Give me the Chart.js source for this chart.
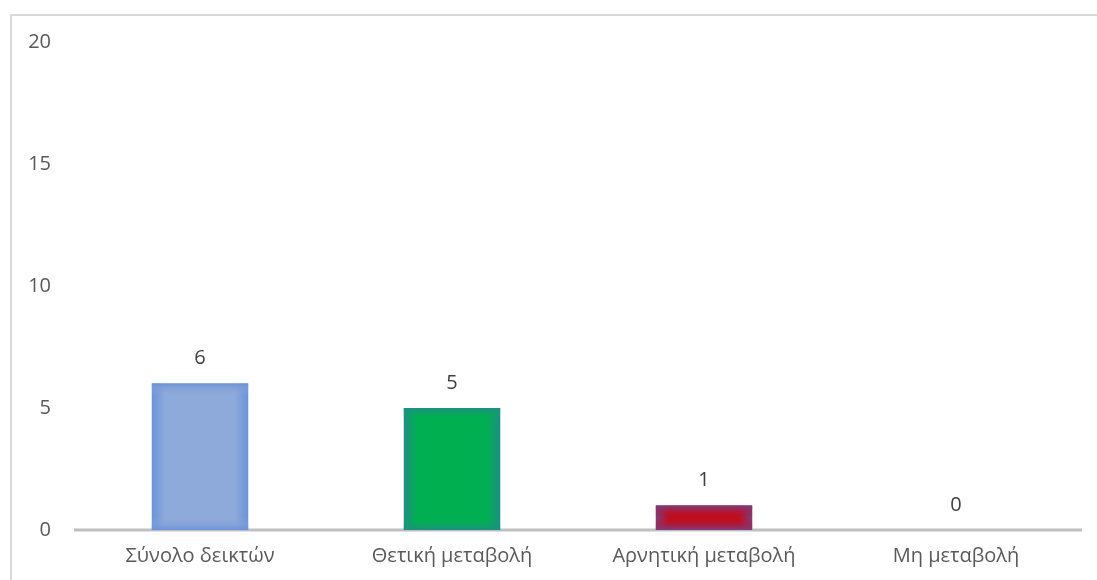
<!DOCTYPE html>
<html>
<head>
<meta charset="utf-8">
<script src="https://cdn.jsdelivr.net/npm/chart.js@4/dist/chart.umd.min.js"></script>
<style>
    html, body { margin: 0; padding: 0; background: #fff; }
    #wrap { position: absolute; left: 0; top: 0; width: 1097px; height: 580px; }
    #frame { position: absolute; left: 10px; top: 14px; width: 1100px; height: 600px; border: 2px solid #d9d9d9; box-sizing: border-box; }
</style>
</head>
<body>
<div id="frame"></div>
<div id="wrap"><canvas id="myChart"></canvas></div>
<script>
var categories = ["Σύνολο δεικτών", "Θετική μεταβολή", "Αρνητική μεταβολή", "Μη μεταβολή"];
var values = [6, 5, 1, 0];
var yTicks = [0, 5, 10, 15, 20];

// χρώματα: κέντρο / άκρη
var centerColors = ["#8eaadb", "#00b050", "#c00d1e", "#a5a5a5"];
var edgeColors = ["#6d92d6", "#1f8d86", "#7a3e80", "#a5a5a5"];

var data = {
    labels: categories,
    datasets: [{
        data: values,
        backgroundColor: edgeColors,
        borderWidth: 0,
        barPercentage: 0.382,
        categoryPercentage: 1
    }]
};

// σκίαση των μπαρών και τιμές πάνω από κάθε μπάρα
var barPlugin = {
    id: "barPlugin",
    afterDatasetsDraw: function(chart) {
        var ctx = chart.ctx;
        var meta = chart.getDatasetMeta(0);
        meta.data.forEach(function(bar, i) {
            var p = bar.getProps(["x", "y", "base", "width"], true);
            var left = p.x - p.width / 2;
            var h = p.base - p.y;
            if (h > 0) {
                var g = ctx.createLinearGradient(left, 0, left + p.width, 0);
                g.addColorStop(0, edgeColors[i]);
                g.addColorStop(0.14, centerColors[i]);
                g.addColorStop(0.86, centerColors[i]);
                g.addColorStop(1, edgeColors[i]);
                ctx.save();
                ctx.fillStyle = g;
                ctx.fillRect(left, p.y, p.width, h);
                var f = Math.min(12, h / 2) / h;
                var gv = ctx.createLinearGradient(0, p.y, 0, p.base);
                gv.addColorStop(0, edgeColors[i]);
                gv.addColorStop(f, hexA(centerColors[i], 0));
                gv.addColorStop(1 - f, hexA(centerColors[i], 0));
                gv.addColorStop(1, edgeColors[i]);
                ctx.fillStyle = gv;
                ctx.fillRect(left, p.y, p.width, h);
                ctx.restore();
            }
            ctx.save();
            ctx.fillStyle = "#404040";
            ctx.font = "20px 'Open Sans'";
            ctx.textAlign = "center";
            ctx.textBaseline = "middle";
            ctx.fillText(String(values[i]), p.x, p.y - 25);
            ctx.restore();
        });
    }
};

function hexA(hex, a) {
    var r = parseInt(hex.substr(1, 2), 16), g = parseInt(hex.substr(3, 2), 16), b = parseInt(hex.substr(5, 2), 16);
    return "rgba(" + r + "," + g + "," + b + "," + a + ")";
}

// άξονας x: γκρι γραμμή
var axisPlugin = {
    id: "axisPlugin",
    afterDatasetsDraw: function(chart) {
        var ctx = chart.ctx;
        var y = chart.scales.y.getPixelForValue(0);
        ctx.save();
        ctx.strokeStyle = "#bfbfbf";
        ctx.lineWidth = 3;
        ctx.beginPath();
        ctx.moveTo(chart.chartArea.left, y);
        ctx.lineTo(chart.chartArea.right, y);
        ctx.stroke();
        ctx.restore();
    }
};

var ctx = document.getElementById("myChart").getContext("2d");
var myNewChart = new Chart(ctx, {
    type: "bar",
    data: data,
    plugins: [axisPlugin, barPlugin],
    options: {
        responsive: true,
        maintainAspectRatio: false,
        animation: false,
        layout: { padding: { top: 42, right: 15, left: 0, bottom: 0 } },
        plugins: {
            legend: { display: false },
            tooltip: { enabled: false }
        },
        scales: {
            x: {
                grid: { display: false },
                border: { display: false },
                ticks: { color: "#595959", font: { family: "Open Sans", size: 20 }, padding: 6 },
                afterFit: function(scale) { scale.height = 50; }
            },
            y: {
                min: 0,
                max: 20,
                afterBuildTicks: function(scale) {
                    scale.ticks = yTicks.map(function(v) { return { value: v }; });
                },
                grid: { display: false },
                border: { display: false },
                ticks: { color: "#595959", font: { family: "Open Sans", size: 20 }, padding: 15 },
                afterFit: function(scale) { scale.width = 74; }
            }
        }
    }
});
</script>
</body>
</html>
